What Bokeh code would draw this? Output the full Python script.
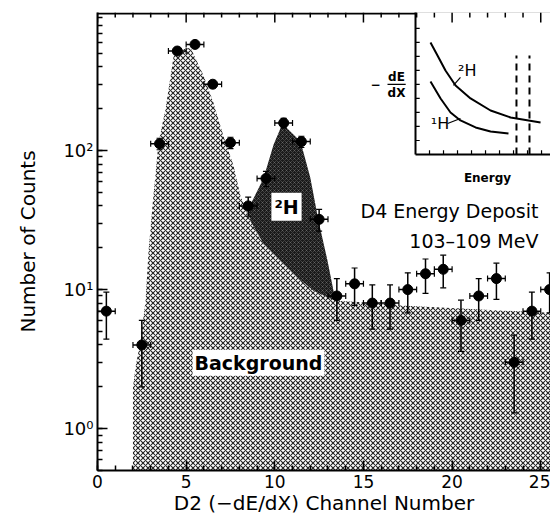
from bokeh.plotting import figure
from bokeh.models import Range1d, LinearScale, SingleIntervalTicker, Label, ColumnDataSource
from bokeh.embed import file_html
from bokeh.resources import INLINE

FONT = "DejaVu Sans"

# ---- measured data (channel centres, counts, Poisson errors) ----
channel = [0.5, 2.5, 3.5, 4.5, 5.5, 6.5, 7.5, 8.5, 9.5, 10.5, 11.5, 12.5, 13.5,
           14.5, 15.5, 16.5, 17.5, 18.5, 19.5, 20.5, 21.5, 22.5, 23.5, 24.5, 25.5]
counts = [7, 4, 112, 520, 580, 300, 114, 40, 63, 158, 116, 32, 9,
          11, 8, 8, 10, 13, 14, 6, 9, 12, 3, 7, 10]
count_err = [2.6, 2.0, 10.6, 22.8, 24.1, 17.3, 10.7, 6.3, 7.9, 12.6, 10.8, 5.7, 3.0,
             3.3, 2.8, 2.8, 3.2, 3.6, 3.7, 2.4, 3.0, 3.5, 1.7, 2.6, 3.2]
bin_half = 0.5

# ---- background envelope (hatched region) ----
bg_x = [2.0, 2.0, 2.14, 2.43, 2.71, 2.88, 3.10, 3.44, 3.84, 4.29, 4.7, 5.25, 5.98,
        6.54, 7.10, 7.67, 8.07, 8.63, 9.36, 10.3, 11.28, 12.18, 13.14, 13.48,
        15.45, 17.1, 20.5, 25.6, 25.6]
bg_y = [0.5, 1.97, 2.75, 4.3, 8.3, 19, 40, 114, 200, 475, 530, 550, 347,
        221, 128, 78, 47, 31, 21.4, 16.2, 12.2, 9.8, 8.6, 8.3,
        8.06, 7.7, 7.3, 6.8, 0.5]

# ---- 2H excess region (dark): upper edge, then lower edge back ----
h2_top_x = [8.46, 9.36, 9.93, 10.43, 11.45, 12.0, 12.46, 12.97, 13.31, 13.48]
h2_top_y = [37, 63, 110, 156, 116, 64, 31.4, 16.2, 9.8, 8.3]
h2_bot_x = [13.14, 12.18, 11.28, 10.3, 9.36, 8.63]
h2_bot_y = [8.6, 9.8, 12.2, 16.2, 21.4, 31]

# ---- axis ticks ----
x_major = [0, 5, 10, 15, 20, 25]
x_minor = [v for v in range(0, 26) if v % 5 != 0]

# ---- inset schematic (its own units, 1 unit = 14 px) ----
inset_h2_x = [1.07, 1.57, 2.14, 2.86, 3.93, 5.36, 6.79, 8.93]
inset_h2_y = [8.0, 7.07, 6.0, 4.93, 4.0, 3.14, 2.64, 2.29]
inset_h1_x = [1.07, 1.79, 2.5, 3.21, 4.29, 5.36, 6.64]
inset_h1_y = [5.21, 4.0, 3.0, 2.43, 1.93, 1.64, 1.5]
inset_cut_x = [7.21, 8.14]
inset_cut_top = 7.07
inset_ticks = [1, 2, 3, 4, 5, 6, 7, 8, 9]

p = figure(width=550, height=517, x_range=Range1d(0, 25.55), y_range=Range1d(0.5, 984),
           y_axis_type="log", output_backend="svg", toolbar_location=None,
           min_border_left=97, min_border_right=0, min_border_top=12, min_border_bottom=47,
           outline_line_color=None)
p.xgrid.visible = False
p.ygrid.visible = False

# helper ranges in which one unit is 14 screen pixels (frame 97..550 x 12..470)
p.extra_x_ranges = {"ix": Range1d(-22.71, 9.64)}
p.extra_y_ranges = {"iy": Range1d(-22.57, 10.14)}
p.extra_x_scales = {"ix": LinearScale()}
p.extra_y_scales = {"iy": LinearScale()}

p.xaxis.ticker = SingleIntervalTicker(interval=5, num_minor_ticks=5)
for ax in list(p.xaxis) + list(p.yaxis):
    ax.major_tick_in = 10
    ax.major_tick_out = 0
    ax.minor_tick_in = 5
    ax.minor_tick_out = 0
    ax.axis_line_width = 2
    ax.major_tick_line_width = 1.5
    ax.minor_tick_line_width = 1.5
    ax.major_label_text_font = FONT
    ax.major_label_text_color = "black"
    ax.axis_label_text_font = FONT
    ax.axis_label_text_font_style = "normal"
    ax.axis_label_text_font_size = "20px"
    ax.axis_label_text_color = "black"
p.xaxis.major_label_text_font_size = "17px"
p.yaxis.major_label_text_font_size = "18px"
p.xaxis.major_label_standoff = 4
p.xaxis.axis_label = "D2 (−dE/dX) Channel Number"
p.xaxis.axis_label_standoff = 0
p.yaxis.major_label_standoff = 4
p.yaxis.axis_label = "Number of Counts"
p.yaxis.axis_label_standoff = 20
p.yaxis.major_label_overrides = {1: "10⁰", 10: "10¹", 100: "10²"}

# regions
p.patch(bg_x, bg_y, fill_color="white", line_color=None,
        hatch_pattern="diagonal_cross", hatch_color="black", hatch_scale=5,
        hatch_weight=1.1, hatch_alpha=0.85)
p.patch(h2_top_x + h2_bot_x, h2_top_y + h2_bot_y, fill_color="#1a1a1a", line_color=None,
        hatch_pattern="diagonal_cross", hatch_color="white", hatch_scale=4,
        hatch_weight=0.6, hatch_alpha=0.3)

IR = dict(x_range_name="ix", y_range_name="iy")

# top frame edge with inward ticks (mirrors the bottom axis)
p.segment(x0=[0], y0=[10.07], x1=[25.55], y1=[10.07], y_range_name="iy",
          line_color="black", line_width=2)

# inset
p.quad(left=0, right=12, bottom=0, top=12, fill_color="white", line_color=None, **IR)
p.segment(x0=[0, 0], y0=[0, 0], x1=[0, 12], y1=[12, 0], line_color="black", line_width=2, **IR)
p.segment(x0=[0] * len(inset_ticks), y0=inset_ticks, x1=[0.3] * len(inset_ticks), y1=inset_ticks,
          line_color="black", line_width=1.2, **IR)
p.segment(x0=inset_ticks, y0=[0] * len(inset_ticks), x1=inset_ticks, y1=[0.3] * len(inset_ticks),
          line_color="black", line_width=1.2, **IR)
p.line(inset_h2_x, inset_h2_y, line_color="black", line_width=2, **IR)
p.line(inset_h1_x, inset_h1_y, line_color="black", line_width=2, **IR)
p.segment(x0=inset_cut_x, y0=[0, 0], x1=inset_cut_x, y1=[inset_cut_top] * 2,
          line_color="black", line_width=2, line_dash="7 5", **IR)
p.segment(x0=[3.21, 2.29], y0=[5.5, 2.21], x1=[2.71, 3.21], y1=[4.93, 2.57],
          line_color="black", line_width=1.2, **IR)
p.segment(x0=[-2.0], y0=[5.0], x1=[-0.7], y1=[5.0], line_color="black", line_width=1.2, **IR)
for txt, xx, yy in [("²H", 3.7, 6.0), ("¹H", 1.75, 2.2)]:
    p.add_layout(Label(x=xx, y=yy, text=txt, text_font=FONT, text_font_size="16px",
                       text_color="black", text_align="center", text_baseline="middle", **IR))
for txt, xx, yy in [("dE", -1.36, 5.5), ("dX", -1.36, 4.36), ("−", -2.86, 5.0)]:
    p.add_layout(Label(x=xx, y=yy, text=txt, text_font=FONT, text_font_size="12px",
                       text_color="black", text_font_style="bold", text_align="center",
                       text_baseline="middle", **IR))
p.add_layout(Label(x=5.14, y=-1.71, text="Energy", text_font=FONT, text_font_size="12px",
                   text_color="black", text_font_style="bold", text_align="center",
                   text_baseline="middle", **IR))

# top-edge ticks drawn after the inset so they sit on it
p.segment(x0=x_major, y0=[10.14] * len(x_major), x1=x_major, y1=[10.14 - 0.714] * len(x_major),
          y_range_name="iy", line_color="black", line_width=1.5)
p.segment(x0=x_minor, y0=[10.14] * len(x_minor), x1=x_minor, y1=[10.14 - 0.357] * len(x_minor),
          y_range_name="iy", line_color="black", line_width=1.5)

# error bars and points
src = ColumnDataSource(dict(
    x=channel, y=counts,
    yl=[c - e for c, e in zip(counts, count_err)],
    yu=[c + e for c, e in zip(counts, count_err)],
    xl=[c - bin_half for c in channel],
    xu=[c + bin_half for c in channel],
))
p.segment(x0="x", y0="yl", x1="x", y1="yu", source=src, line_color="black", line_width=1.5)
p.segment(x0="xl", y0="y", x1="xu", y1="y", source=src, line_color="black", line_width=1.5)
p.scatter(x="x", y="yl", source=src, marker="dash", size=6, line_color="black", line_width=1.2)
p.scatter(x="x", y="yu", source=src, marker="dash", size=6, line_color="black", line_width=1.2)
p.scatter(x="xl", y="y", source=src, marker="dash", size=6, angle=1.5708, line_color="black", line_width=1.2)
p.scatter(x="xu", y="y", source=src, marker="dash", size=6, angle=1.5708, line_color="black", line_width=1.2)
p.scatter(x="x", y="y", source=src, marker="circle", size=10, fill_color="black", line_color="black")

# annotations
p.add_layout(Label(x=10.66, y=39.5, text="²H", text_font=FONT, text_font_size="19px",
                   text_color="black", text_font_style="bold", text_align="center",
                   text_baseline="middle", background_fill_color="white", padding=3))
p.add_layout(Label(x=9.08, y=2.98, text="Background", text_font=FONT, text_font_size="19px",
                   text_color="black", text_font_style="bold", text_align="center",
                   text_baseline="middle", background_fill_color="white", padding=2))
p.add_layout(Label(x=24.87, y=37, text="D4 Energy Deposit", text_font=FONT, text_font_size="19px",
                   text_color="black", text_align="right", text_baseline="middle"))
p.add_layout(Label(x=24.87, y=22.5, text="103–109 MeV", text_font=FONT, text_font_size="19px",
                   text_color="black", text_align="right", text_baseline="middle"))

open("out.html", "w").write(file_html(p, INLINE))
